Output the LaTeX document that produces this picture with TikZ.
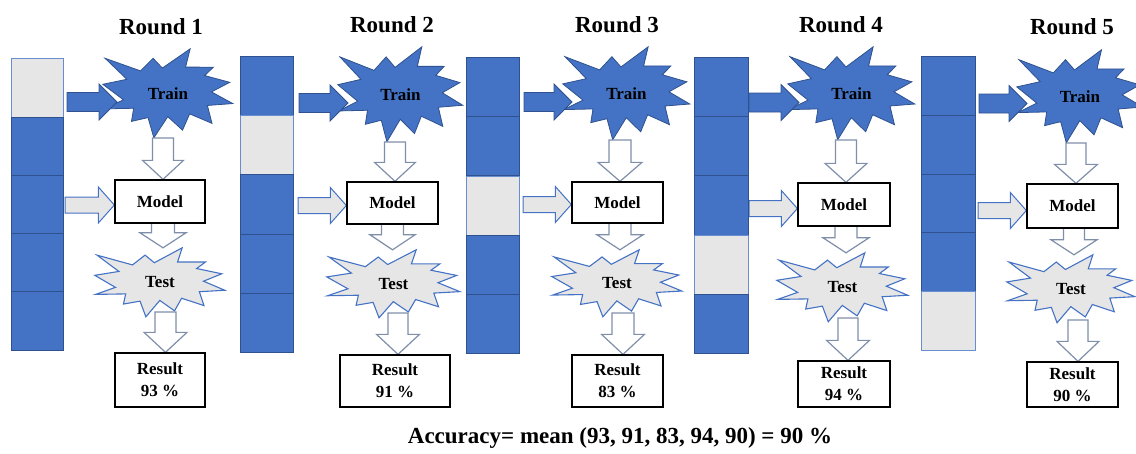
\documentclass[tikz,border=0pt]{standalone}
\usepackage{fontspec}
\setmainfont{Liberation Serif}
\usetikzlibrary{calc}
\pgfdeclarelayer{bg}
\pgfdeclarelayer{arr}
\pgfsetlayers{bg,arr,main}
\definecolor{obl}{HTML}{4472C4}
\definecolor{obd}{HTML}{2F528F}
\definecolor{ogr}{HTML}{E7E6E6}
\definecolor{hol}{HTML}{7F8FAA}
\tikzset{
  title/.style={font=\fontsize{23}{27}\selectfont\bfseries, inner sep=0},
  lbl/.style={font=\fontsize{17}{21}\selectfont\bfseries, inner sep=0},
  box/.style={draw=black, line width=1.3pt, fill=white, inner sep=0, align=center,
    font=\fontsize{17}{22}\selectfont\bfseries},
  barnode/.style={inner sep=0},
  trainstar/.style={fill=obl, draw=obd, line width=0.8pt, line join=miter},
  teststar/.style={fill=ogr, draw=obl, line width=1.1pt, line join=miter},
  bluearr/.style={fill=obl, draw=obd, line width=0.8pt, line join=miter},
  grayarr/.style={fill=ogr, draw=obl, line width=1pt, line join=miter},
  holarr/.style={fill=white, draw=hol, line width=1.2pt, line join=miter},
  blueseg/.style={fill=obl, draw=obd, line width=1pt},
  grayseg/.style={fill=ogr, draw=obl!80, line width=0.8pt}
}
\newcommand{\drawbar}[2]{%
  \foreach \k in {1,...,5}{%
    \pgfmathsetmacro{\ka}{(\k-1)/5}%
    \pgfmathsetmacro{\kb}{\k/5}%
    \ifnum\k=#2\relax
      \draw[grayseg] ($(#1.north west)!\ka!(#1.south west)$) rectangle ($(#1.north east)!\kb!(#1.south east)$);
    \else
      \draw[blueseg] ($(#1.north west)!\ka!(#1.south west)$) rectangle ($(#1.north east)!\kb!(#1.south east)$);
    \fi
  }}
% explosion shape drawn behind a named text node: #1 node, #2 width, #3 height, #4 style
\newcommand{\explosion}[4]{%
  \begin{pgfonlayer}{bg}
  \begin{scope}[shift={(#1.north west)}, xscale=#2/100, yscale=#3/100]
    \draw[#4] (45.8,21.65) -- (67.23,0) -- (63.65,20.6) -- (85.09,20.63) -- (78.35,30.05)
      -- (97.67,37.67) -- (83.6,48.4) -- (100,61.53) -- (80.45,63.65) -- (84.00,83.77)
      -- (66.8,73.1) -- (61.33,91.38) -- (50,76.25) -- (39.28,100) -- (34.8,77.3)
      -- (22.05,81.56) -- (23.75,66.8) -- (0.63,67.53) -- (15.9,57.35) -- (0,39.88)
      -- (18.5,34.25) -- (1.71,10.63) -- (29,24.8) -- (38.67,10.63) -- cycle;
  \end{scope}
  \end{pgfonlayer}}
% #1 style, #2 from, #3 to, #4 half shaft, #5 half head, #6 head length
\newcommand{\blkdown}[6]{%
  \begin{pgfonlayer}{arr}
  \draw[#1] let \p1=(#2), \p2=(#3) in
    (\x1-#4,\y1) -- (\x1-#4,\y2+#6) -- (\x1-#5,\y2+#6) -- (\x1,\y2)
    -- (\x1+#5,\y2+#6) -- (\x1+#4,\y2+#6) -- (\x1+#4,\y1) -- cycle;
  \end{pgfonlayer}}
\newcommand{\blkright}[6]{%
  \begin{pgfonlayer}{arr}
  \draw[#1] let \p1=(#2), \p2=(#3) in
    (\x1,\y1+#4) -- (\x2-#6,\y1+#4) -- (\x2-#6,\y1+#5) -- (\x2,\y1)
    -- (\x2-#6,\y1-#5) -- (\x2-#6,\y1-#4) -- (\x1,\y1-#4) -- cycle;
  \end{pgfonlayer}}
\begin{document}
\begin{tikzpicture}[x=1pt,y=-1pt]
\useasboundingbox (0,0) rectangle (1136,453);
% ---------------- Round 1
\node[title] (r1) at (161,27) {Round 1};
\node[barnode, minimum width=51, minimum height=291] (bar1) at (37.5,204.5) {};
\drawbar{bar1}{1}
\node[lbl, minimum width=130, minimum height=89] (train1) at (168,93.5) {Train};
\explosion{train1}{130}{89}{trainstar}
\node[box, minimum width=90, minimum height=43] (model1) at (160,201.5) {Model};
\node[lbl, minimum width=130, minimum height=69] (test1) at (160,282.5) {Test};
\explosion{test1}{130}{69}{teststar}
\node[box, minimum width=90, minimum height=54] (res1) at (160,380) {Result\\93 \%};
\coordinate (b1a) at (67,102); \coordinate (b1b) at (117,102);
\blkright{bluearr}{b1a}{b1b}{9.5pt}{18pt}{18pt}
\coordinate (g1a) at (65,205);
\blkright{grayarr}{g1a}{model1.west}{8pt}{18pt}{16pt}
\coordinate (t1s) at (163,138);
\blkdown{holarr}{t1s}{model1.north}{10.5pt}{20.5pt}{19pt}
\coordinate (m1s) at (163,223);
\blkdown{holarr}{m1s}{test1.north}{11.5pt}{23pt}{15pt}
\coordinate (e1s) at (165.5,312);
\blkdown{holarr}{e1s}{res1.north}{10.5pt}{21.5pt}{20pt}
% ---------------- Round 2
\node[title] (r2) at (392,25) {Round 2};
\node[barnode, minimum width=52, minimum height=295] (bar2) at (267,204.5) {};
\drawbar{bar2}{2}
\node[lbl, minimum width=125, minimum height=95] (train2) at (400.5,94.5) {Train};
\explosion{train2}{125}{95}{trainstar}
\node[box, minimum width=91, minimum height=42] (model2) at (392.5,203) {Model};
\node[lbl, minimum width=133, minimum height=68] (test2) at (393.5,284) {Test};
\explosion{test2}{133}{68}{teststar}
\node[box, minimum width=110, minimum height=52] (res2) at (395,381) {Result\\91 \%};
\coordinate (b2a) at (299,103); \coordinate (b2b) at (348,103);
\blkright{bluearr}{b2a}{b2b}{9.5pt}{18pt}{18pt}
\coordinate (g2a) at (298,205.5);
\blkright{grayarr}{g2a}{model2.west}{8pt}{18pt}{16pt}
\coordinate (t2s) at (395,142);
\blkdown{holarr}{t2s}{model2.north}{10.5pt}{20.5pt}{19pt}
\coordinate (m2s) at (392.5,224);
\blkdown{holarr}{m2s}{test2.north}{11pt}{22.5pt}{15pt}
\coordinate (e2s) at (398,313);
\blkdown{holarr}{e2s}{res2.north}{10pt}{21.5pt}{20pt}
% ---------------- Round 3
\node[title] (r3) at (617,25) {Round 3};
\node[barnode, minimum width=52, minimum height=295] (bar3) at (493,205.5) {};
\drawbar{bar3}{3}
\node[lbl, minimum width=127, minimum height=93] (train3) at (626.5,93.5) {Train};
\explosion{train3}{127}{93}{trainstar}
\node[box, minimum width=91, minimum height=41] (model3) at (617.5,202.5) {Model};
\node[lbl, minimum width=130, minimum height=67] (test3) at (617,283.5) {Test};
\explosion{test3}{130}{67}{teststar}
\node[box, minimum width=91, minimum height=52] (res3) at (617.5,381) {Result\\83 \%};
\coordinate (b3a) at (524,102); \coordinate (b3b) at (572,102);
\blkright{bluearr}{b3a}{b3b}{9.5pt}{18pt}{18pt}
\coordinate (g3a) at (523,204.5);
\blkright{grayarr}{g3a}{model3.west}{8pt}{18pt}{16pt}
\coordinate (t3s) at (620,140);
\blkdown{holarr}{t3s}{model3.north}{11pt}{22pt}{19pt}
\coordinate (m3s) at (620,223);
\blkdown{holarr}{m3s}{test3.north}{11pt}{23pt}{15pt}
\coordinate (e3s) at (623,313);
\blkdown{holarr}{e3s}{res3.north}{11pt}{21.5pt}{20pt}
% ---------------- Round 4
\node[title] (r4) at (841,25) {Round 4};
\node[barnode, minimum width=53, minimum height=295] (bar4) at (721.5,205.5) {};
\drawbar{bar4}{4}
\node[lbl, minimum width=127, minimum height=93] (train4) at (851.5,93.5) {Train};
\explosion{train4}{127}{93}{trainstar}
\node[box, minimum width=92, minimum height=43] (model4) at (844,204.5) {Model};
\node[lbl, minimum width=131, minimum height=69] (test4) at (842.5,287.5) {Test};
\explosion{test4}{131}{69}{teststar}
\node[box, minimum width=92, minimum height=46] (res4) at (844,384) {Result\\94 \%};
\coordinate (b4a) at (749,102.5); \coordinate (b4b) at (799,102.5);
\blkright{bluearr}{b4a}{b4b}{9.5pt}{18pt}{18pt}
\coordinate (g4a) at (749,208.5);
\blkright{grayarr}{g4a}{model4.west}{8pt}{18pt}{16pt}
\coordinate (t4s) at (846,140);
\blkdown{holarr}{t4s}{model4.north}{10.5pt}{21pt}{19pt}
\coordinate (m4s) at (846,226);
\blkdown{holarr}{m4s}{test4.north}{11pt}{23pt}{15pt}
\coordinate (e4s) at (848,318);
\blkdown{holarr}{e4s}{res4.north}{10pt}{21.5pt}{20pt}
% ---------------- Round 5
\node[title] (r5) at (1072,27) {Round 5};
\node[barnode, minimum width=53, minimum height=293] (bar5) at (948.5,203.5) {};
\drawbar{bar5}{5}
\node[lbl, minimum width=126, minimum height=93] (train5) at (1080,96.5) {Train};
\explosion{train5}{126}{93}{trainstar}
\node[box, minimum width=91, minimum height=44] (model5) at (1072.5,206) {Model};
\node[lbl, minimum width=128, minimum height=68] (test5) at (1071,289) {Test};
\explosion{test5}{128}{68}{teststar}
\node[box, minimum width=91, minimum height=45] (res5) at (1072.5,384.5) {Result\\90 \%};
\coordinate (b5a) at (979,103.5); \coordinate (b5b) at (1027,103.5);
\blkright{bluearr}{b5a}{b5b}{9.5pt}{18pt}{18pt}
\coordinate (g5a) at (978,210.5);
\blkright{grayarr}{g5a}{model5.west}{8pt}{18pt}{16pt}
\coordinate (t5s) at (1076,143);
\blkdown{holarr}{t5s}{model5.north}{10pt}{21.5pt}{19pt}
\coordinate (m5s) at (1074,228);
\blkdown{holarr}{m5s}{test5.north}{10.5pt}{23pt}{15pt}
\coordinate (e5s) at (1078,320);
\blkdown{holarr}{e5s}{res5.north}{10pt}{21pt}{20pt}
% ---------------- Accuracy
\node[title] (acc) at (620,438) {Accuracy= mean (93, 91, 83, 94, 90) = 90 \%};
\end{tikzpicture}
\end{document}
